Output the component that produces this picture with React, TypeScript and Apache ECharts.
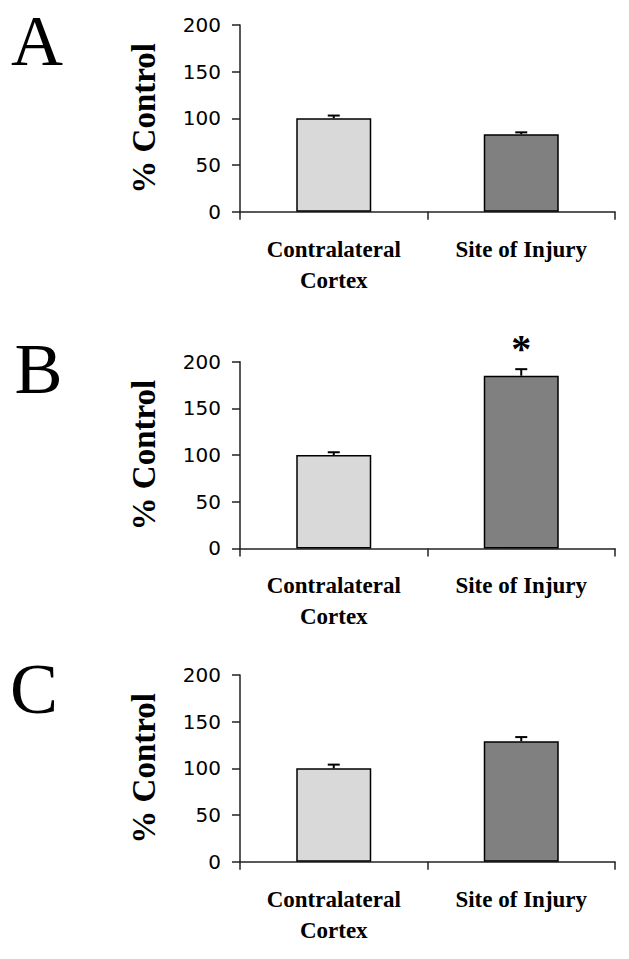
import React, { useEffect, useRef } from "react";
import * as echarts from "echarts";

const categories = ["Contralateral\nCortex", "Site of Injury"];
const panelLabels = ["A", "B", "C"];
const meansA = [100, 83];
const errA = [3, 2];
const sigA = [0, 0];
const meansB = [100, 185];
const errB = [3, 7];
const sigB = [0, 1];
const meansC = [100, 129];
const errC = [4, 4.5];
const sigC = [0, 0];
const yMin = 0;
const yMax = 200;
const yInterval = 50;
const yAxisTitle = "% Control";
const barColors = ["#d9d9d9", "#808080"];

const panels = [
  { means: meansA, err: errA, sig: sigA },
  { means: meansB, err: errB, sig: sigB },
  { means: meansC, err: errC, sig: sigC },
];

const gridTops = [25, 361.7, 675];
const letterPos = [
  { x: 11, y: 41 },
  { x: 14.5, y: 369 },
  { x: 10, y: 689 },
];

export default function App() {
  const ref = useRef<HTMLDivElement>(null);
  useEffect(() => {
    if (!ref.current) return;
    const chart = echarts.init(ref.current, null, { renderer: "svg" });
    const axisColor = "#222";
    const grids = gridTops.map((t) => ({ left: 240, right: 14, top: t, height: 186.7 }));
    const xAxes = panels.map((_, i) => ({
      type: "category",
      gridIndex: i,
      data: categories,
      axisLine: { show: true, lineStyle: { color: axisColor, width: 1.5 } },
      axisTick: { show: true, inside: false, length: 8, lineStyle: { color: axisColor, width: 1.5 } },
      axisLabel: {
        margin: 22,
        color: "#000",
        fontFamily: "Liberation Serif",
        fontWeight: "bold",
        fontSize: 23,
        lineHeight: 31,
        interval: 0,
      },
      splitLine: { show: false },
    }));
    const yAxes = panels.map((_, i) => ({
      type: "value",
      gridIndex: i,
      min: yMin,
      max: yMax,
      interval: yInterval,
      name: yAxisTitle,
      nameLocation: "middle",
      nameGap: 80,
      nameTextStyle: {
        color: "#000",
        fontFamily: "Liberation Serif",
        fontWeight: "bold",
        fontSize: 33,
      },
      axisLine: { show: true, lineStyle: { color: axisColor, width: 1.5 } },
      axisTick: { show: true, inside: false, length: 8, lineStyle: { color: axisColor, width: 1.5 } },
      axisLabel: {
        margin: 19,
        color: "#000",
        fontFamily: "DejaVu Sans",
        fontSize: 20,
      },
      splitLine: { show: false },
    }));
    const series: any[] = [];
    panels.forEach((p, i) => {
      series.push({
        type: "bar",
        xAxisIndex: i,
        yAxisIndex: i,
        barWidth: "40%",
        data: p.means.map((v, j) => ({
          value: v,
          itemStyle: { color: barColors[j], borderColor: "#000", borderWidth: 1.5 },
        })),
        z: 2,
      });
      series.push({
        type: "custom",
        xAxisIndex: i,
        yAxisIndex: i,
        z: 3,
        data: p.means.map((v, j) => [j, v, p.err[j], p.sig[j]]),
        encode: { x: 0, y: 1 },
        renderItem: (params: any, api: any) => {
          const cat = api.value(0);
          const mean = api.value(1);
          const e = api.value(2);
          const sig = api.value(3);
          const base = api.coord([cat, mean]);
          const top = api.coord([cat, mean + e]);
          const children: any[] = [
            {
              type: "line",
              shape: { x1: base[0], y1: base[1], x2: top[0], y2: top[1] },
              style: { stroke: "#000", lineWidth: 2 },
            },
            {
              type: "line",
              shape: { x1: top[0] - 6, y1: top[1], x2: top[0] + 6, y2: top[1] },
              style: { stroke: "#000", lineWidth: 2 },
            },
          ];
          if (sig) {
            children.push({
              type: "text",
              x: top[0],
              y: top[1] - 21,
              style: {
                text: "*",
                font: 'bold 40px "Liberation Serif"',
                fill: "#000",
                align: "center",
                verticalAlign: "middle",
              },
            });
          }
          return { type: "group", children };
        },
      });
    });
    chart.setOption({
      animation: false,
      backgroundColor: "#fff",
      grid: grids,
      xAxis: xAxes,
      yAxis: yAxes,
      series,
      graphic: panelLabels.map((t, i) => ({
        type: "text",
        x: letterPos[i].x,
        y: letterPos[i].y,
        style: {
          text: t,
          font: '72px "Liberation Serif"',
          fill: "#000",
          align: "left",
          verticalAlign: "middle",
        },
      })),
    } as any);
    return () => chart.dispose();
  }, []);
  return (
    <div
      ref={ref}
      style={{ position: "absolute", left: 0, top: 0, width: 629, height: 959 }}
    />
  );
}
